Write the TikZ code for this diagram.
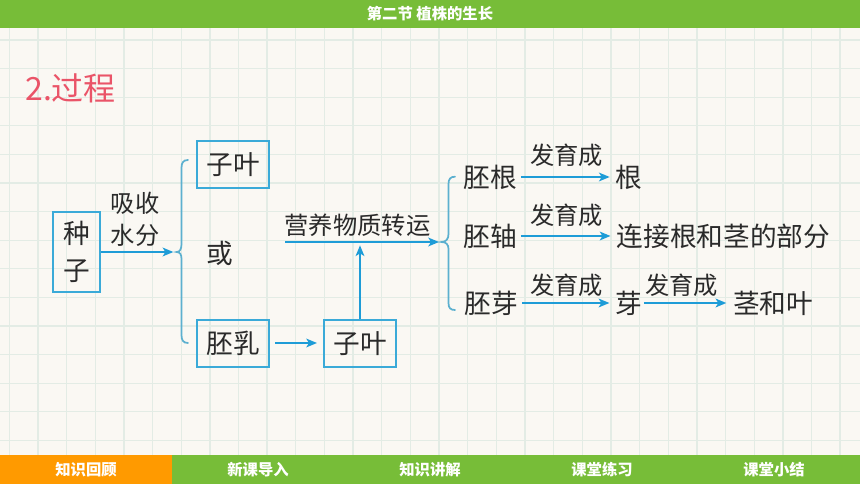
\documentclass[tikz,border=0pt]{standalone}
\usepackage{fontspec}
\setmainfont{Noto Sans CJK SC}
\usetikzlibrary{arrows.meta}
\definecolor{bgc}{HTML}{FAF8F3}
\definecolor{gridc}{HTML}{E3ECE5}
\definecolor{topg}{HTML}{77BD38}
\definecolor{tabo}{HTML}{FF9A00}
\definecolor{titr}{HTML}{EA5468}
\definecolor{arrc}{HTML}{1E9CD7}
\definecolor{boxc}{HTML}{3AAAD8}
\definecolor{bracec}{HTML}{5CB0CF}
\definecolor{txtc}{HTML}{2A2A2A}
\begin{document}
\begin{tikzpicture}[x=0.75pt,y=-0.75pt,
  gridline/.style={draw=gridc,line width=1pt},
  bigtxt/.style={font=\fontsize{20}{27.5}\selectfont,text=txtc,inner sep=3pt},
  smalltxt/.style={font=\fontsize{18.2}{24}\selectfont,text=txtc,inner sep=2pt,align=center},
  boxnode/.style={bigtxt,draw=boxc,line width=1.5pt,align=center},
  arr/.style={draw=arrc,line width=1.6pt,-{Stealth[length=8pt,width=6.5pt,inset=2pt]}},
  bracestyle/.style={draw=bracec,line width=1.3pt,line cap=round},
  barlabel/.style={font=\bfseries\fontsize{11.5}{13}\selectfont,text=white,inner sep=0pt}]
\useasboundingbox (0,0) rectangle (860,484);
\fill[bgc] (0,0) rectangle (860,484);
% grid
\foreach \i in {0,...,29} \draw[gridline] ({9.3+28.65*\i},28) -- ({9.3+28.65*\i},455);
\foreach \j in {0,...,14} \draw[gridline] (0,{40+28.6*\j}) -- (860,{40+28.6*\j});
% top bar
\fill[topg] (0,0) rectangle (860,28);
\node[barlabel] (tt) at (430,14) {第二节\ 植株的生长};
% bottom bar
\fill[tabo] (0,455) rectangle (172,484);
\fill[topg] (172,455) rectangle (860,484);
\node[barlabel] (t1) at (86,469.5) {知识回顾};
\node[barlabel] (t2) at (258,469.5) {新课导入};
\node[barlabel] (t3) at (430,469.5) {知识讲解};
\node[barlabel] (t4) at (602,469.5) {课堂练习};
\node[barlabel] (t5) at (774,469.5) {课堂小结};
% title
\node[anchor=west,inner sep=0pt,text=titr,font=\fontsize{24}{28}\selectfont] (title) at (25,88) {2.过程};
% left part
\node[boxnode,minimum width=35.25pt,minimum height=60pt,inner sep=0pt] (zz) at (76.5,252) {种\\子};
\node[smalltxt] (xs) at (135,219) {吸收\\水分};
\coordinate (b1) at (176.7,252);
\draw[arr,shorten >=2.5pt] (zz.east |- b1) -- (b1);
\draw[bracestyle] (188,160) .. controls (183,160) and (181.5,163) .. (181.5,168) -- (181.5,244)
  .. controls (181.5,249) and (180,252) .. (b1)
  .. controls (180,252) and (181.5,254.5) .. (181.5,259) -- (181.5,335)
  .. controls (181.5,340) and (183,343) .. (188,343);
\node[boxnode,minimum width=54pt,minimum height=35.25pt,inner sep=0pt] (zy1) at (233,164.5) {子叶};
\node[bigtxt] (huo) at (220,253) {或};
\node[boxnode,minimum width=54pt,minimum height=35.25pt,inner sep=0pt] (pr) at (233,343.5) {胚乳};
\node[boxnode,minimum width=54pt,minimum height=35.25pt,inner sep=0pt] (zy2) at (360,343.5) {子叶};
\coordinate (prr) at (269,343);
\draw[arr,shorten <=4.5pt,shorten >=4.5pt] (prr) -- (zy2.west |- prr);
% nutrient transport line
\coordinate (ls) at (285,242);
\coordinate (b2) at (441.7,242);
\coordinate (ys) at (360,242);
\draw[arr,shorten >=2pt] (ls) -- (b2);
\draw[arr,shorten >=2.5pt] (zy2) -- (ys);
\node[smalltxt] (yy) at (357.5,225) {营养物质转运};
\draw[bracestyle] (455,176.7) .. controls (450.5,176.7) and (448.5,179) .. (448.5,184) -- (448.5,234)
  .. controls (448.5,239) and (446,242) .. (b2)
  .. controls (446,242) and (448.5,244.5) .. (448.5,249) -- (448.5,303)
  .. controls (448.5,308) and (450.5,310) .. (455,310);
% right part
\node[bigtxt] (pg) at (490,177) {胚根};
\node[bigtxt] (pz) at (490,236) {胚轴};
\node[bigtxt] (py) at (491.5,303) {胚芽};
\node[bigtxt] (g) at (629.3,177) {根};
\node[bigtxt,anchor=west] (lj) at (612.5,236) {连接根和茎的部分};
\node[bigtxt] (ya) at (629,303) {芽};
\node[bigtxt,anchor=west] (jy) at (729,303) {茎和叶};
\draw[arr,shorten >=1.5pt] (pg) -- (g);
\draw[arr,shorten >=1.5pt] (pz) -- (lj);
\draw[arr,shorten >=1.5pt] (py) -- (ya);
\draw[arr,shorten <=-2pt,shorten >=2pt] (ya) -- (jy);
\node[smalltxt] (f1) at (566.7,155) {发育成};
\node[smalltxt] (f2) at (566.7,215) {发育成};
\node[smalltxt] (f3) at (566.7,285) {发育成};
\node[smalltxt] (f4) at (681.7,285) {发育成};
\end{tikzpicture}
\end{document}
